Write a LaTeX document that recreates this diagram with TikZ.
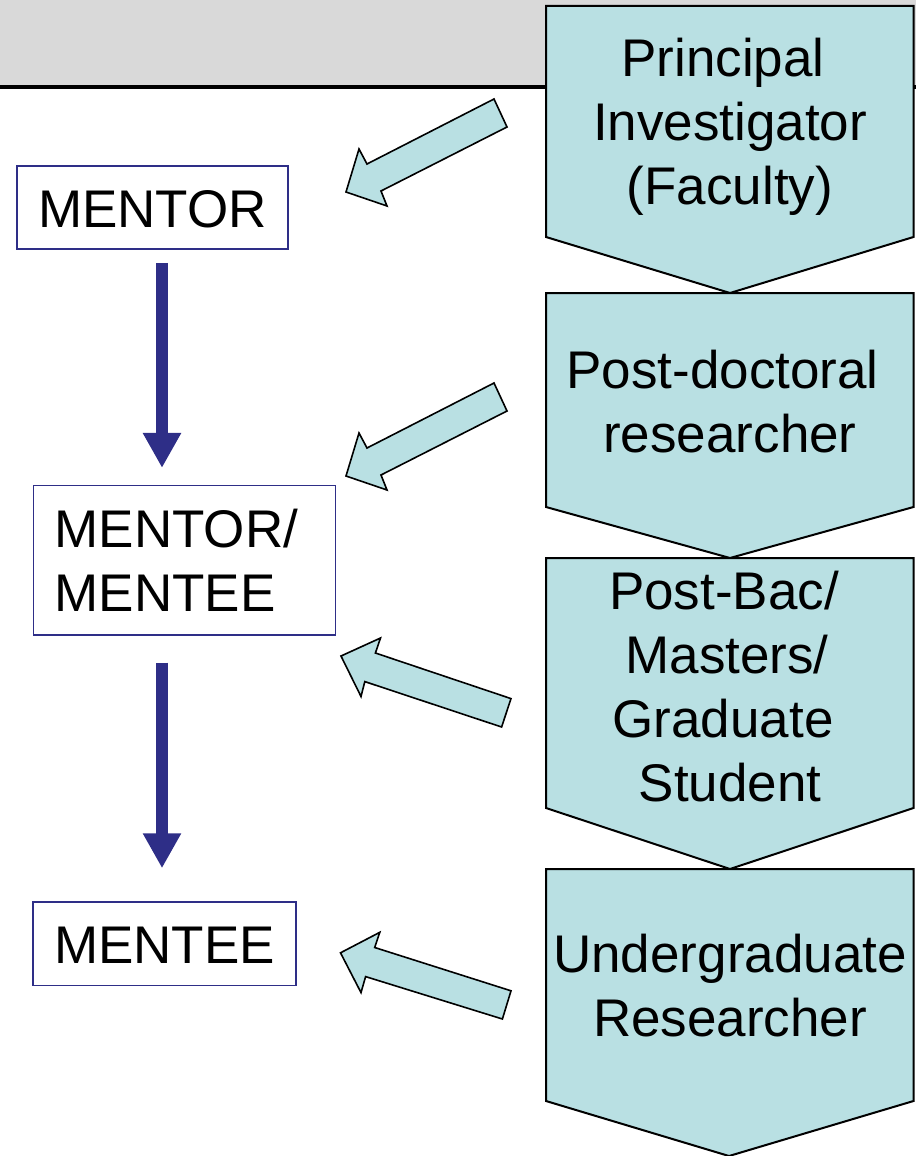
\documentclass[tikz,border=0pt]{standalone}
\usepackage{fontspec}
\setmainfont{Liberation Sans}
\usetikzlibrary{arrows.meta}
\definecolor{lb}{RGB}{185,224,227}
\definecolor{hdr}{RGB}{217,217,217}
\definecolor{navy}{RGB}{46,46,135}
\begin{document}
\begin{tikzpicture}[x=1pt,y=-1pt,
  lbl/.style={font=\fontsize{53}{64}\selectfont, inner sep=0pt, align=center, anchor=north},
  pent/.style={fill=lb, draw=black, line width=2pt, line join=miter},
  barrow/.style={fill=lb, draw=black, line width=1.6pt, line join=miter},
  rolebox/.style={draw=navy, line width=1.5pt, fill=white, inner sep=0pt,
    font=\fontsize{53}{64}\selectfont},
  downarrow/.style={draw=navy, line width=12pt, -{Triangle[width=36pt,length=35pt]}}
]
\useasboundingbox (0,0) rectangle (916,1156);
% header band
\fill[hdr] (0,0) rectangle (916,86);
\draw[line width=4.5pt] (0,87) -- (916,87);
% chevron column
\path[pent] (546,6) -- (913.5,6) -- (913.5,237) -- (730,293) -- (546,237) -- cycle;
\path[pent] (546,293) -- (913.5,293) -- (913.5,507) -- (730,558) -- (546,507) -- cycle;
\path[pent] (546,558) -- (913.5,558) -- (913.5,808) -- (730,869) -- (546,808) -- cycle;
\path[pent] (546,869) -- (913.5,869) -- (913.5,1101) -- (729,1156) -- (546,1101) -- cycle;
\node[lbl] (pi) at (730,31.2) {\strut Principal\kern14pt\\\strut Investigator\\\strut (Faculty)};
\node[lbl] (pd) at (730,343.2) {\strut Post-doctoral\kern15pt\\\strut researcher};
\node[lbl] (gs) at (730,564.2) {\strut Post-Bac/\kern12pt\\\strut Masters/\kern6pt\\\strut Graduate\kern14pt\\\strut Student};
\node[lbl] (ug) at (730,927.2) {\strut Undergraduate\\\strut Researcher};
% block arrows
\path[barrow] (494,99) -- (507,127) -- (381,191) -- (387,206) -- (346,192) -- (359,149) -- (367,164) -- cycle;
\path[barrow] (494,383) -- (507,411) -- (381,475) -- (387,490) -- (346,476) -- (359,433) -- (367,448) -- cycle;
\path[barrow] (341,656) -- (380.5,638) -- (375.4,653) -- (511,698.6) -- (501.6,727) -- (364.8,681.6) -- (361,696.5) -- cycle;
\path[barrow] (340.5,952.8) -- (379.8,932.3) -- (374.7,947.5) -- (511,990.8) -- (502.4,1019) -- (365.6,976.6) -- (361,992.6) -- cycle;
% role boxes
\node[rolebox, minimum width=271pt, minimum height=83pt, text height=40pt, text depth=0pt] (m1) at (152.5,207.5) {MENTOR};
\node[rolebox, minimum width=302pt, minimum height=149.3pt, inner xsep=21.5pt, text width=259pt, align=left] (m2) at (184.3,560.3)
  {\strut MENTOR/\\\rule[-7.4pt]{0pt}{44.8pt}MENTEE};
\node[rolebox, minimum width=263pt, minimum height=83.5pt, text height=38.5pt, text depth=0pt] (m3) at (164.5,943.75) {MENTEE};
% navy arrows
\path (162,0) coordinate (ax);
\draw[downarrow, shorten <=13pt, shorten >=17pt] (ax |- m1.south) -- (ax |- m2.north);
\draw[downarrow, shorten <=27pt, shorten >=33pt] (ax |- m2.south) -- (ax |- m3.north);
\end{tikzpicture}
\end{document}
